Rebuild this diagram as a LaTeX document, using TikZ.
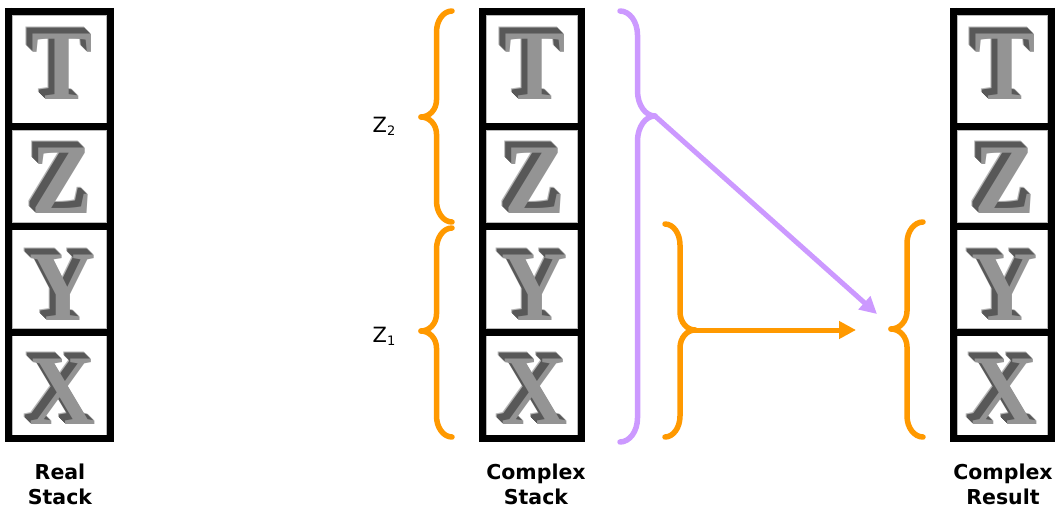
\documentclass[tikz,border=0pt]{standalone}
\usepackage{fontspec}
\setmainfont{DejaVu Sans}
\newfontfamily\letterfont{Liberation Serif}[FakeStretch=0.92]
\usetikzlibrary{arrows.meta,calc}
\definecolor{brorange}{HTML}{FF9900}
\definecolor{brpurple}{HTML}{CC99FF}
\definecolor{metalfront}{HTML}{949494}
\definecolor{metalside}{HTML}{585858}
\definecolor{metaltop}{HTML}{B4B4B4}

\tikzset{
  wall/.style={line width=7pt,line cap=butt},
  cellbox/.style={draw=gray!55,line width=0.8pt,fill=white},
  bracestroke/.style={line width=5.5pt,line cap=round,line join=round},
  arrowstroke/.style={line width=5pt,-{Triangle[length=17pt,width=17pt]}},
  letterbase/.style={anchor=base,inner sep=0pt,font=\letterfont\bfseries\fontsize{100}{100}\selectfont},
  letterext/.style={letterbase,text=metalside},
  letterhi/.style={letterbase,text=metaltop},
  letterfront/.style={letterbase,text=metalfront},
  zlabel/.style={font=\fontsize{21}{21}\selectfont,inner sep=0pt},
  caption/.style={font=\bfseries\fontsize{20.5}{25}\selectfont,align=center,inner sep=0pt}
}

% #1 name, #2 x, #3 baseline y, #4 letter
\newcommand\metalletter[4]{%
  \node[letterhi] (#1e7) at (#2-7,#3-7) {#4};
  \foreach \k in {6,...,1}{\node[letterext] (#1e\k) at (#2-\k,#3-\k) {#4};}
  \node[letterfront] (#1) at (#2,#3) {#4};
}

% stack: #1 prefix, #2 left wall x, #3 right wall x, #4 letter centre x
\newcommand\stackframe[4]{%
  \path[cellbox] (#2+4,15) rectangle (#3-4,123);
  \path[cellbox] (#2+4,130.5) rectangle (#3-4,222.5);
  \path[cellbox] (#2+4,229.5) rectangle (#3-4,328.5);
  \path[cellbox] (#2+4,335.5) rectangle (#3-4,435);
  \metalletter{#1T}{#4+3}{100}{T}
  \metalletter{#1Z}{#4+3}{213}{Z}
  \metalletter{#1Y}{#4+3}{320}{Y}
  \metalletter{#1X}{#4+3}{424}{X}
  \draw[wall] (#2,8) -- (#2,442);
  \draw[wall] (#3,8) -- (#3,442);
  \foreach \yy in {11.5,127,226,332,438.5}{\draw[wall] (#2,\yy) -- (#3,\yy);}
}

% brace: #1 end x, #2 tip x, #3 top y, #4 tip y, #5 bottom y, #6 colour, #7 end curve height, #8 tip curve height
\newcommand\bracepiece[8]{%
  \pgfmathsetmacro\bxs{(#1+#2)/2}
  \pgfmathsetmacro\bca{#1-0.552*(#1-\bxs)}
  \pgfmathsetmacro\bcb{#2+0.552*(\bxs-#2)}
  \pgfmathsetmacro\byA{#3+#7}
  \pgfmathsetmacro\byAc{#3+0.448*#7}
  \pgfmathsetmacro\byB{#4-#8}
  \pgfmathsetmacro\byBc{#4-0.448*#8}
  \pgfmathsetmacro\byC{#4+#8}
  \pgfmathsetmacro\byCc{#4+0.448*#8}
  \pgfmathsetmacro\byD{#5-#7}
  \pgfmathsetmacro\byDc{#5-0.448*#7}
  \draw[bracestroke,#6] (#1,#3) .. controls (\bca,#3) and (\bxs,\byAc) .. (\bxs,\byA)
     -- (\bxs,\byB) .. controls (\bxs,\byBc) and (\bcb,#4) .. (#2,#4);
  \draw[bracestroke,#6] (#1,#5) .. controls (\bca,#5) and (\bxs,\byDc) .. (\bxs,\byD)
     -- (\bxs,\byC) .. controls (\bxs,\byCc) and (\bcb,#4) .. (#2,#4);
}

\begin{document}
\begin{tikzpicture}[x=1pt,y=-1pt]
\useasboundingbox (0,0) rectangle (1062,508);
\fill[white] (0,0) rectangle (1062,508);

% stacks
\stackframe{r}{8.5}{110}{59.5}
\stackframe{c}{482}{581.5}{532}
\stackframe{x}{953.5}{1051.5}{1002}

% braces
\bracepiece{452}{421}{11}{117}{222}{brorange}{21}{17}
\bracepiece{452}{421}{228}{331}{437}{brorange}{21}{17}
\bracepiece{620}{655}{11}{116}{442}{brpurple}{24}{25}
\bracepiece{665}{695}{224}{330}{437}{brorange}{21}{18}
\bracepiece{923}{891}{222}{329}{437}{brorange}{21}{18}

% brace tips and arrow ends
\coordinate (ptip) at (655,116);
\coordinate (pend) at (877,314);
\coordinate (otip) at (695,330);
\coordinate (oend) at (856,330);
\draw[arrowstroke,brpurple] (ptip) -- (pend);
\draw[arrowstroke,brorange] (otip) -- (oend);

% labels
\node[zlabel] (z2) at (384,126) {Z\raisebox{-3pt}{\fontsize{13}{13}\selectfont 2}};
\node[zlabel] (z1) at (384,336) {Z\raisebox{-3pt}{\fontsize{13}{13}\selectfont 1}};

\node[caption] (lr) at (60,484) {Real\\Stack};
\node[caption] (lc) at (536,484) {Complex\\Stack};
\node[caption] (lx) at (1003,484) {Complex\\Result};
\end{tikzpicture}
\end{document}
